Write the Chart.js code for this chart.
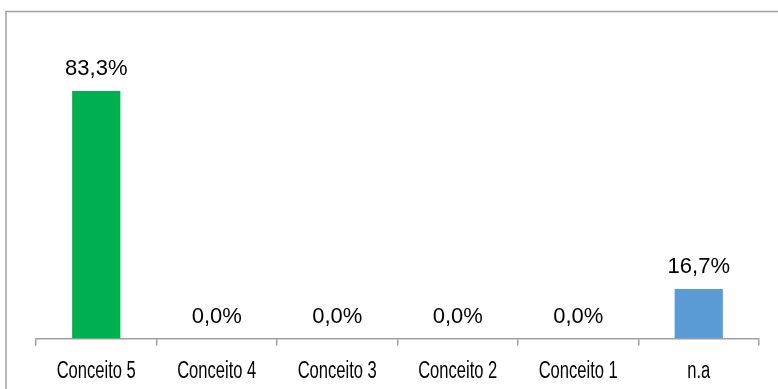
<!DOCTYPE html>
<html>
<head>
<meta charset="utf-8">
<script src="https://cdn.jsdelivr.net/npm/chart.js@4/dist/chart.umd.min.js"></script>
<style>
  html, body { margin: 0; padding: 0; background: #fff; }
  #wrap { position: relative; width: 778px; height: 389px; overflow: hidden; }
  canvas { display: block; }
</style>
</head>
<body>
<div id="wrap"><canvas id="c" width="778" height="389"></canvas></div>
<script>
const categories = ["Conceito 5", "Conceito 4", "Conceito 3", "Conceito 2", "Conceito 1", "n.a"];
const values = [83.3, 0.0, 0.0, 0.0, 0.0, 16.7];
const barColors = ["#00B050", "#00B050", "#00B050", "#00B050", "#00B050", "#5B9BD5"];
const valueLabels = values.map(v => v.toFixed(1).replace('.', ',') + '%');

const frame = {
  id: 'frame',
  beforeDraw(chart) {
    const ctx = chart.ctx;
    ctx.save();
    ctx.strokeStyle = '#a0a0a0';
    ctx.lineWidth = 1.5;
    ctx.strokeRect(6, 11.5, 900, 500);
    ctx.restore();
  }
};

// Category labels drawn at the x scale's own tick positions, in a condensed face
const condensedTicks = {
  id: 'condensedTicks',
  afterDraw(chart) {
    const ctx = chart.ctx;
    const xs = chart.scales.x;
    ctx.save();
    ctx.font = '23px "Liberation Sans", Arial, sans-serif';
    ctx.fillStyle = '#000';
    ctx.textAlign = 'center';
    ctx.textBaseline = 'alphabetic';
    const sx = 0.72;
    xs.ticks.forEach((t, i) => {
      const x = xs.getPixelForTick(i);
      const y = xs.top + 39;
      ctx.save();
      ctx.translate(x, y);
      ctx.scale(sx, 1);
      ctx.fillText(categories[i], 0, 0);
      ctx.restore();
    });
    ctx.restore();
  }
};

const valueLabelPlugin = {
  id: 'valueLabels',
  afterDatasetsDraw(chart) {
    const ctx = chart.ctx;
    const meta = chart.getDatasetMeta(0);
    ctx.save();
    ctx.font = '22px "Liberation Sans", Arial, sans-serif';
    ctx.fillStyle = '#000';
    ctx.textAlign = 'center';
    ctx.textBaseline = 'alphabetic';
    meta.data.forEach((bar, i) => {
      ctx.fillText(valueLabels[i], bar.x, bar.y - 16);
    });
    ctx.restore();
  }
};

new Chart(document.getElementById('c'), {
  type: 'bar',
  data: {
    labels: categories,
    datasets: [{
      data: values,
      backgroundColor: barColors,
      borderWidth: 0,
      categoryPercentage: 1.0,
      barPercentage: 0.4
    }]
  },
  options: {
    responsive: false,
    animation: false,
    devicePixelRatio: 1,
    layout: { padding: { left: 36, right: 19, top: 41.5, bottom: 7 } },
    plugins: { legend: { display: false }, tooltip: { enabled: false } },
    scales: {
      x: {
        offset: true,
        afterFit(scale) { scale.height = 43.5; },
        grid: {
          display: true,
          offset: true,
          drawOnChartArea: false,
          drawTicks: true,
          tickLength: 7,
          color: '#a0a0a0',
          lineWidth: 1.5
        },
        border: { display: true, color: '#a0a0a0', width: 1.5 },
        ticks: {
          color: 'rgba(0,0,0,0)',
          padding: 12,
          maxRotation: 0,
          autoSkip: false,
          font: { family: '"Liberation Sans", sans-serif', size: 16 }
        }
      },
      y: {
        display: false,
        min: 0,
        max: 100
      }
    }
  },
  plugins: [frame, valueLabelPlugin, condensedTicks]
});
</script>
</body>
</html>
